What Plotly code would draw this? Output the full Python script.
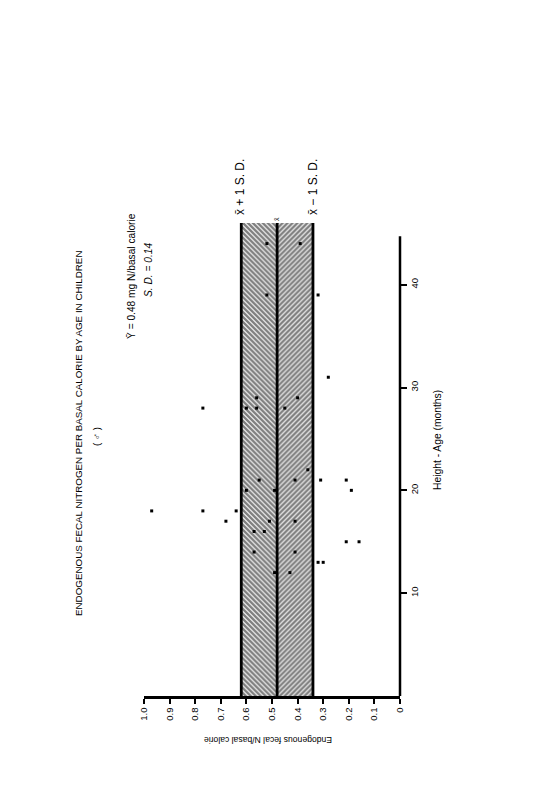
import plotly.graph_objects as go

# Endogenous fecal N per basal calorie vs height-age (months), boys
months = [44, 44, 39, 39, 31, 29, 29, 28, 28, 28, 28, 22, 21, 21, 21, 21,
          20, 20, 20, 18, 18, 18, 17, 17, 17, 16, 16, 15, 15, 14, 14, 13, 13, 12, 12]
fecal_n = [0.52, 0.39, 0.52, 0.32, 0.28, 0.56, 0.40, 0.77, 0.60, 0.56, 0.45, 0.36,
           0.55, 0.41, 0.31, 0.21, 0.60, 0.49, 0.19, 0.97, 0.77, 0.64, 0.68, 0.51,
           0.41, 0.57, 0.53, 0.21, 0.16, 0.57, 0.41, 0.32, 0.30, 0.49, 0.43]

mean_n = 0.48
sd_n = 0.14
band_top = 46          # months covered by the shaded band
axis_top = 44.7        # where the month axis line stops

x_ticks = [1.0, 0.9, 0.8, 0.7, 0.6, 0.5, 0.4, 0.3, 0.2, 0.1, 0]
x_tick_text = ["1.0", "0.9", "0.8", "0.7", "0.6", "0.5", "0.4", "0.3", "0.2", "0.1", "0"]
y_ticks = [10, 20, 30, 40]

W, H = 546, 790
OFF = 8                      # page body margin
L, R, T, B = 136, 154, 215, 102
FONT = "Liberation Sans"


def px(x, y):
    # page pixel -> paper coordinates
    x, y = x - OFF, y - OFF
    return (x - L) / (W - L - R), (H - B - y) / (H - T - B)


fig = go.Figure()

# hatched band: mean to mean+SD and mean-SD to mean
fig.add_trace(go.Scatter(
    x=[mean_n, mean_n + sd_n, mean_n + sd_n, mean_n, mean_n],
    y=[0, 0, band_top, band_top, 0],
    fill="toself", mode="lines", line=dict(width=0, color="black"),
    fillcolor="white",
    fillpattern=dict(shape="\\", fgcolor="black", bgcolor="white", size=3.5, solidity=0.7),
    hoverinfo="skip", showlegend=False))
fig.add_trace(go.Scatter(
    x=[mean_n - sd_n, mean_n, mean_n, mean_n - sd_n, mean_n - sd_n],
    y=[0, 0, band_top, band_top, 0],
    fill="toself", mode="lines", line=dict(width=0, color="black"),
    fillcolor="white",
    fillpattern=dict(shape="/", fgcolor="black", bgcolor="white", size=3.5, solidity=0.7),
    hoverinfo="skip", showlegend=False))

for xv in [mean_n - sd_n, mean_n, mean_n + sd_n]:
    fig.add_trace(go.Scatter(x=[xv, xv], y=[0, band_top], mode="lines",
                             line=dict(color="black", width=2.8),
                             hoverinfo="skip", showlegend=False))

fig.add_trace(go.Scatter(x=fecal_n, y=months, mode="markers",
                         marker=dict(symbol="square", size=3, color="black"),
                         showlegend=False))

# month axis line on the right, stops short of the band top
fig.add_shape(type="line", xref="paper", yref="y", x0=1, x1=1, y0=0, y1=axis_top,
              line=dict(color="black", width=2.5))

anns = [
    ("ENDOGENOUS FECAL NITROGEN PER BASAL CALORIE BY AGE IN CHILDREN", 78, 434, -90, 9.8, False),
    ("( \u2642 )", 96, 437, -90, 9.6, False),
    ("\u0232 = 0.48 mg N/basal calorie", 131, 276, -90, 10.2, False),
    ("S. D. = 0.14", 148, 270, -90, 10.2, True),
    ("x\u0304 + 1 S. D.", 240, 187, -90, 12, False),
    ("x\u0304", 277, 219, -90, 7, False),
    ("x\u0304 \u2212 1 S. D.", 313, 187, -90, 12, False),
    ("Height - Age (months)", 437, 440, -90, 10.3, False),
    ("Endogenous fecal N/basal calorie", 268, 740, 180, 8.6, False),
]
for text, x, y, ang, size, ital in anns:
    ax, ay = px(x, y)
    if ital:
        text = "<i>" + text + "</i>"
    fig.add_annotation(text=text, xref="paper", yref="paper", x=ax, y=ay,
                       xanchor="center", yanchor="middle", showarrow=False,
                       textangle=ang, font=dict(family=FONT, size=size, color="black"))

fig.update_layout(
    width=W, height=H, margin=dict(l=L, r=R, t=T, b=B),
    paper_bgcolor="white", plot_bgcolor="white",
    font=dict(family=FONT, size=9.5, color="black"),
    xaxis=dict(range=[1.0, 0], tickvals=x_ticks, ticktext=x_tick_text, tickangle=-90,
               ticks="outside", ticklen=5, tickwidth=2, tickcolor="black",
               showline=True, linewidth=2.5, linecolor="black",
               showgrid=False, zeroline=False, fixedrange=True),
    yaxis=dict(range=[0, band_top], side="right", tickvals=y_ticks, tickangle=-90,
               ticks="outside", ticklen=6, tickwidth=2, tickcolor="black",
               showline=False, showgrid=False, zeroline=False, fixedrange=True),
)

fig.write_html("out.html")
